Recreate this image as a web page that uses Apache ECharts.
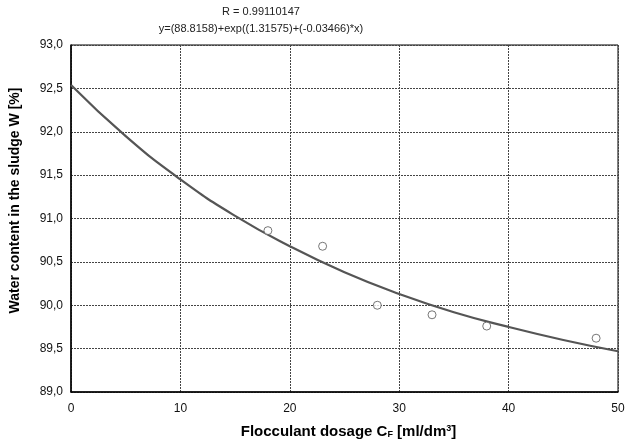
<!DOCTYPE html>
<html>
<head>
<meta charset="utf-8">
<script src="https://cdn.jsdelivr.net/npm/echarts@6/dist/echarts.min.js"></script>
<style>
    html, body { margin: 0; padding: 0; background: #fff; }
    #chart { width: 640px; height: 447px; }
</style>
</head>
<body>
<div id="chart"></div>
<script>
// measured points
const doseX = [18, 23, 28, 33, 38, 48];
const waterW = [90.86, 90.68, 90.0, 89.89, 89.76, 89.62];

// fitted curve, every 5 units
const fitX = [0, 5, 10, 15, 20, 25, 30, 35, 40, 45, 50];
const fitW = [92.54, 91.95, 91.45, 91.03, 90.68, 90.38, 90.13, 89.92, 89.75, 89.60, 89.47];

const titleLines = ['R = 0.99110147', 'y=(88.8158)+exp((1.31575)+(-0.03466)*x)'];

let myChart = echarts.init(document.getElementById('chart'));
let option = {
    animation: false,
    title: {
        text: titleLines.join('\n'),
        left: 261,
        top: 4,
        padding: 0,
        textAlign: 'center',
        textStyle: {
            fontFamily: 'Liberation Sans',
            fontSize: 11,
            fontWeight: 'normal',
            color: '#222',
            lineHeight: 16.5
        }
    },
    grid: {
        left: 70,
        right: 22,
        top: 45,
        bottom: 55,
        show: true,
        borderColor: '#000',
        borderWidth: 1
    },
    xAxis: {
        type: 'value',
        min: 0,
        max: 50,
        interval: 10,
        name: 'Flocculant dosage C{sub|F} [ml/dm{sup|3}]',
        nameLocation: 'middle',
        nameGap: 32,
        nameTextStyle: {
            fontFamily: 'Liberation Sans',
            fontSize: 15,
            fontWeight: 'bold',
            color: '#000',
            padding: [0, 0, 0, 8],
            rich: {
                sub: { fontSize: 9, fontWeight: 'bold', verticalAlign: 'bottom', padding: [6, 0, 0, 0] },
                sup: { fontSize: 9, fontWeight: 'bold', verticalAlign: 'top', padding: [0, 0, 6, 0] }
            }
        },
        axisLine: { lineStyle: { color: '#000', width: 1.5 } },
        axisTick: { show: false },
        axisLabel: {
            fontFamily: 'Liberation Sans',
            fontSize: 12,
            color: '#111',
            margin: 11
        },
        splitLine: {
            show: true,
            lineStyle: { color: '#444', type: [2, 1], width: 1 }
        }
    },
    yAxis: {
        type: 'value',
        min: 89,
        max: 93,
        interval: 0.5,
        name: 'Water content in the sludge W [%]',
        nameLocation: 'middle',
        nameGap: 49,
        nameTextStyle: {
            fontFamily: 'Liberation Sans',
            fontSize: 14,
            fontWeight: 'bold',
            color: '#000',
            padding: [0, 0, 0, 36]
        },
        axisLine: { show: true, lineStyle: { color: '#000', width: 1.5 } },
        axisTick: { show: false },
        axisLabel: {
            fontFamily: 'Liberation Sans',
            fontSize: 12,
            color: '#111',
            margin: 8,
            formatter: (v) => v.toFixed(1).replace('.', ',')
        },
        splitLine: {
            show: true,
            lineStyle: { color: '#444', type: [2, 1], width: 1 }
        }
    },
    series: [
        {
            name: 'fit',
            type: 'line',
            data: fitX.map((x, i) => [x, fitW[i]]),
            smooth: true,
            showSymbol: false,
            lineStyle: { color: '#555', width: 2.2 },
            z: 3
        },
        {
            name: 'measured',
            type: 'scatter',
            data: doseX.map((x, i) => [x, waterW[i]]),
            symbol: 'circle',
            symbolSize: 8,
            itemStyle: { color: '#fff', borderColor: '#555', borderWidth: 1 },
            z: 4
        }
    ]
};
myChart.setOption(option);
</script>
</body>
</html>
